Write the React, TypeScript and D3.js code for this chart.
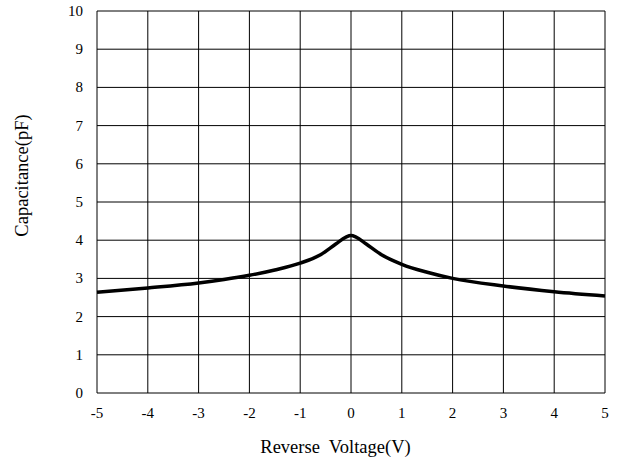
import React from "react";
import * as d3 from "d3";

const voltage = [-5, -4, -3, -2.5, -2, -1.5, -1, -0.6, -0.3, -0.1, 0, 0.1, 0.3, 0.6, 1, 1.5, 2, 3, 4, 5];
const capacitance = [2.64, 2.75, 2.88, 2.97, 3.08, 3.22, 3.4, 3.62, 3.9, 4.08, 4.12, 4.08, 3.9, 3.62, 3.37, 3.16, 3.0, 2.8, 2.65, 2.54];
const xTicks = [-5, -4, -3, -2, -1, 0, 1, 2, 3, 4, 5];
const yTicks = [0, 1, 2, 3, 4, 5, 6, 7, 8, 9, 10];

const W = 620;
const H = 463;
const margin = { top: 11, right: 15, bottom: 70, left: 97 };
const font = "'Liberation Serif', 'Times New Roman', serif";

export default function App() {
  const x = d3.scaleLinear().domain([-5, 5]).range([margin.left, W - margin.right]);
  const y = d3.scaleLinear().domain([0, 10]).range([H - margin.bottom, margin.top]);

  const pts = voltage.map((v, i) => ({ v, c: capacitance[i] }));
  const line = d3
    .line<{ v: number; c: number }>()
    .x((d) => x(d.v))
    .y((d) => y(d.c))
    .curve(d3.curveMonotoneX);

  return (
    <svg
      width={W}
      height={H}
      style={{ position: "absolute", left: 0, top: 0, background: "#fff" }}
    >
      {/* grid */}
      {xTicks.map((t) => (
        <line key={"gx" + t} x1={x(t)} x2={x(t)} y1={y(0)} y2={y(10)} stroke="#000" strokeWidth={1} />
      ))}
      {yTicks.map((t) => (
        <line key={"gy" + t} x1={x(-5)} x2={x(5)} y1={y(t)} y2={y(t)} stroke="#000" strokeWidth={1} />
      ))}

      {/* curve */}
      <path d={line(pts) || ""} fill="none" stroke="#000" strokeWidth={3.5} strokeLinejoin="round" />

      {/* tick labels */}
      {xTicks.map((t) => (
        <text key={"tx" + t} x={x(t)} y={y(0) + 25} textAnchor="middle" fontFamily={font} fontSize={15}>
          {t}
        </text>
      ))}
      {yTicks.map((t) => (
        <text key={"ty" + t} x={x(-5) - 14} y={y(t) + 5} textAnchor="end" fontFamily={font} fontSize={15}>
          {t}
        </text>
      ))}

      {/* axis titles */}
      <text
        x={335.5}
        y={453}
        textAnchor="middle"
        fontFamily={font}
        fontSize={18.5}
        style={{ whiteSpace: "pre" }}
      >
        Reverse  Voltage(V)
      </text>
      <text
        transform={`translate(28,175.5) rotate(-90)`}
        textAnchor="middle"
        fontFamily={font}
        fontSize={18.5}
      >
        Capacitance(pF)
      </text>
    </svg>
  );
}
